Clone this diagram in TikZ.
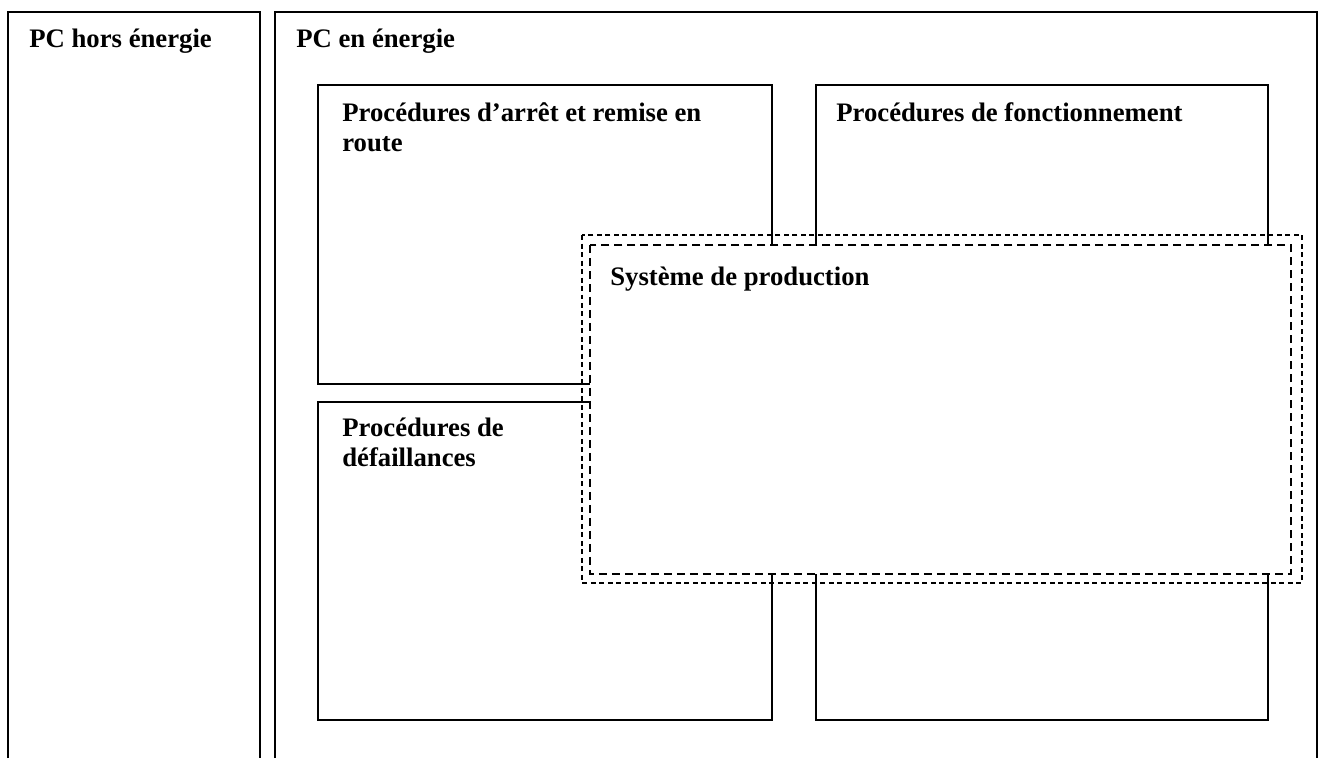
\documentclass[tikz,border=0pt]{standalone}
\usepackage{fontspec}
\setmainfont{Liberation Serif}
\usepackage{tikz}
\usetikzlibrary{positioning,calc}

\begin{document}
\begin{tikzpicture}[
    x=0.02cm, y=-0.02cm,
    every node/.style={font=\fontsize{15.2}{17}\selectfont\bfseries},
    frame/.style={draw, line width=1.1pt},
    box/.style={draw, line width=1.1pt},
    zone/.style={draw, fill=white, line width=1.2pt, dash pattern=on 0.16cm off 0.1cm},
    zoneout/.style={draw, line width=0.6pt, dash pattern=on 0.1cm off 0.07cm},
    title/.style={anchor=base west, inner sep=0pt, align=left}
]
\useasboundingbox (0,0) rectangle (1318,758);

% Left column: PC hors energie
\draw[frame] (8,758) -- (8,12) -- (260,12) -- (260,758);
\node[title] (hors) at (29,47) {PC hors énergie};

% Right column: PC en energie
\draw[frame] (275,758) -- (275,12) -- (1317,12) -- (1317,758);
\node[title] (en) at (296,47) {PC en énergie};

% Procedure boxes
\draw[box] (318,85) rectangle (772,384);
\draw[box] (816,85) rectangle (1268,384);
\draw[box] (318,402) rectangle (772,720);
\draw[box] (816,402) rectangle (1268,720);

% (base of a two-line title = its last line)
\node[title] (arret) at (342,151) {Procédures d’arrêt et remise en\\route};
\node[title] (fonct) at (836,121) {Procédures de fonctionnement};
\node[title] (defail) at (342,466) {Procédures de\\défaillances};

% Production system (double dashed frame)
\draw[zone] (590,245) rectangle (1291,574);
\draw[zoneout] (582,235) rectangle (1302,583);
\node[title] (prod) at (610,285) {Système de production};

\end{tikzpicture}
\end{document}
